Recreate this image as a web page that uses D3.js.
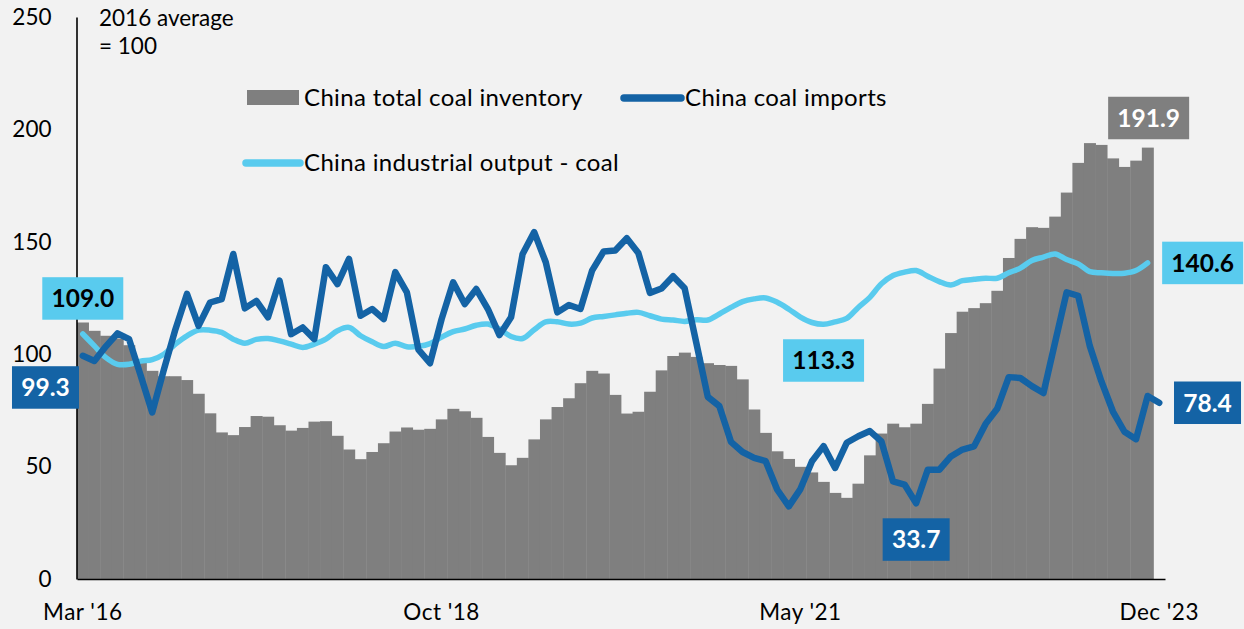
<!DOCTYPE html>
<html>
<head>
<meta charset="utf-8">
<script src="https://cdn.jsdelivr.net/npm/d3@7"></script>
<style>
  html, body { margin: 0; padding: 0; background: #f2f2f2; }
  svg { display: block; font-family: Lato, "Open Sans", sans-serif; }
</style>
</head>
<body>
<svg id="chart" width="1244" height="629"></svg>
<script>
// Monthly, Mar 2016 .. Dec 2023 (94 months), 2016 average = 100
const months = d3.timeMonths(new Date(2016, 2, 1), new Date(2024, 0, 1));

const tickIndex = [0, 31, 62, 93];
const tickLabels = ["Mar '16", "Oct '18", "May '21", "Dec '23"];
const yTicks = [0, 50, 100, 150, 200, 250];

// China total coal inventory (bars, to Nov '23)
const inventory = [
  114.1, 110.4, 108.2, 107.0, 104.0, 96.5, 92.6, 90.2, 90.2, 88.5,
  82.4, 73.7, 65.2, 64.0, 67.6, 72.5, 72.2, 68.4, 66.0, 67.2,
  70.0, 70.2, 63.7, 57.6, 53.3, 56.5, 60.4, 65.6, 67.4, 66.4,
  66.8, 71.0, 75.7, 74.6, 71.7, 63.2, 56.1, 50.6, 53.9, 62.1,
  71.0, 76.5, 80.4, 87.1, 92.6, 91.4, 81.9, 73.6, 74.4, 83.3,
  92.8, 99.2, 100.7, 98.8, 96.0, 95.2, 94.8, 88.8, 75.4, 65.0,
  56.8, 53.4, 49.9, 47.4, 43.2, 38.3, 36.1, 42.4, 55.0, 64.7,
  69.1, 67.5, 69.1, 77.9, 93.6, 109.4, 118.9, 120.5, 122.7, 128.2,
  142.8, 151.3, 156.5, 156.2, 161.2, 171.9, 185.1, 193.9, 193.1, 187.1,
  183.3, 186.1, 191.9
];

// China coal imports (to Dec '23)
const imports = [
  99.3, 97.0, 103.5, 109.3, 106.7, 90.5, 74.1, 93.0, 111.0, 126.8,
  112.6, 123.0, 124.5, 144.6, 120.4, 123.7, 116.4, 132.7, 108.9, 111.9,
  106.7, 138.7, 131.2, 142.4, 117.1, 120.1, 115.6, 136.5, 127.5, 102.0,
  96.0, 115.6, 132.0, 122.3, 129.0, 120.1, 108.5, 116.4, 144.6, 154.3,
  140.9, 118.6, 121.9, 120.1, 137.2, 145.7, 146.1, 151.6, 145.0, 127.3,
  129.2, 134.7, 129.3, 105.2, 81.0, 76.9, 61.0, 56.5, 53.9, 52.4,
  39.7, 32.3, 40.0, 52.4, 59.1, 49.4, 60.6, 63.5, 65.8, 61.2,
  43.4, 42.0, 33.7, 48.6, 48.6, 54.5, 57.6, 59.0, 69.0, 75.7,
  89.8, 89.4, 85.8, 82.7, 105.2, 127.5, 126.0, 103.7, 88.0, 74.5,
  65.5, 62.2, 81.4, 78.4
];

// China industrial output - coal (to Nov '23)
const output = [
  109.0, 103.7, 98.5, 95.5, 95.5, 96.9, 97.6, 100.0, 104.5, 108.2,
  110.7, 110.7, 109.7, 106.7, 104.9, 106.6, 107.0, 105.9, 104.5, 103.0,
  104.5, 106.7, 110.4, 111.9, 108.2, 105.5, 103.4, 104.9, 103.3, 103.5,
  104.7, 107.6, 110.0, 111.2, 112.9, 113.4, 111.2, 107.9, 107.0, 110.9,
  114.4, 114.4, 113.4, 113.8, 116.1, 116.8, 117.5, 118.2, 118.6, 117.1,
  115.6, 115.2, 114.6, 115.3, 115.2, 117.9, 120.8, 123.4, 124.6, 125.0,
  123.1, 120.0, 116.5, 114.1, 113.3, 114.4, 115.9, 120.8, 125.3, 131.3,
  135.0, 136.5, 137.2, 134.7, 132.3, 130.8, 132.7, 133.3, 133.8, 133.8,
  136.2, 138.3, 141.7, 143.2, 144.6, 142.1, 140.2, 136.7, 136.2, 135.9,
  136.0, 137.2, 140.6
];

const seriesNames = ["China total coal inventory", "China coal imports", "China industrial output - coal"];
const colors = { inventory: "#7f7f7f", imports: "#1463a5", output: "#59cbee" };

const svg = d3.select("#chart");

const x = d3.scaleBand()
  .domain(d3.range(months.length))
  .range([77, 1165])
  .padding(0);
const y = d3.scaleLinear().domain([0, 250]).range([579, 17]);
const cx = i => x(i) + x.bandwidth() / 2;

// Bars
svg.append("g").selectAll("rect")
  .data(inventory)
  .join("rect")
  .attr("x", (d, i) => x(i))
  .attr("y", d => y(d))
  .attr("width", x.bandwidth() + 0.4)
  .attr("height", d => y(0) - y(d))
  .attr("fill", colors.inventory);

// Lines
const smooth = d3.line().x((d, i) => cx(i)).y(d => y(d)).curve(d3.curveCatmullRom);
const straight = d3.line().x((d, i) => cx(i)).y(d => y(d));

svg.append("path")
  .datum(output)
  .attr("d", smooth)
  .attr("fill", "none")
  .attr("stroke", colors.output)
  .attr("stroke-width", 5.5)
  .attr("stroke-linecap", "round")
  .attr("stroke-linejoin", "round");

svg.append("path")
  .datum(imports)
  .attr("d", straight)
  .attr("fill", "none")
  .attr("stroke", colors.imports)
  .attr("stroke-width", 6.5)
  .attr("stroke-linecap", "round")
  .attr("stroke-linejoin", "round");

// Axes
const yAxis = svg.append("g")
  .attr("transform", "translate(76.5,0)")
  .call(d3.axisLeft(y).tickValues(yTicks).tickSize(0).tickPadding(25));
const xAxis = svg.append("g")
  .attr("transform", "translate(0,579)")
  .call(d3.axisBottom(x).tickValues(tickIndex)
    .tickFormat((d, i) => tickLabels[i]).tickSize(0).tickPadding(25));
[yAxis, xAxis].forEach(g => {
  g.select(".domain").attr("stroke", "#000").attr("stroke-width", 1.6);
  g.selectAll("text").attr("font-family", "Lato, sans-serif")
    .attr("font-size", 22.5).attr("fill", "#000");
});
xAxis.selectAll("text").attr("letter-spacing", 0.5);

// Unit note
const note = svg.append("text").attr("x", 99).attr("font-size", 22.5).attr("fill", "#000");
note.append("tspan").attr("x", 99).attr("y", 26).text("2016 average");
note.append("tspan").attr("x", 99).attr("y", 54).text("= 100");

// Legend
const legend = svg.append("g").attr("font-size", 24).attr("letter-spacing", 0.35).attr("fill", "#000");
legend.append("rect").attr("x", 247).attr("y", 90).attr("width", 52).attr("height", 15)
  .attr("fill", colors.inventory);
legend.append("text").attr("x", 304).attr("y", 106).text(seriesNames[0]);
legend.append("line").attr("x1", 624).attr("x2", 681).attr("y1", 98).attr("y2", 98)
  .attr("stroke", colors.imports).attr("stroke-width", 7.5).attr("stroke-linecap", "round");
legend.append("text").attr("x", 685).attr("y", 106).text(seriesNames[1]);
legend.append("line").attr("x1", 246).attr("x2", 300).attr("y1", 163).attr("y2", 163)
  .attr("stroke", colors.output).attr("stroke-width", 7.5).attr("stroke-linecap", "round");
legend.append("text").attr("x", 304).attr("y", 171).text(seriesNames[2]);

// Value call-outs
const callouts = [
  { data: output, i: 0, dx: 0, dy: -35.5, w: 81, fill: colors.output, text: "#000" },
  { data: imports, i: 0, dx: -37.3, dy: 31.7, w: 67, fill: colors.imports, text: "#fff" },
  { data: output, i: 64, dx: 0, dy: 36.2, w: 81, fill: colors.output, text: "#000" },
  { data: imports, i: 72, dx: 0, dy: 36.3, w: 67, fill: colors.imports, text: "#fff" },
  { data: imports, i: 93, dx: 48.3, dy: 0, w: 67, fill: colors.imports, text: "#fff" },
  { data: output, i: 92, dx: 55, dy: 0, w: 81, fill: colors.output, text: "#000" },
  { data: inventory, i: 92, dx: 1, dy: -29.6, w: 81, fill: colors.inventory, text: "#fff" }
];
const boxH = 42.5;
const co = svg.append("g").selectAll("g")
  .data(callouts)
  .join("g")
  .attr("transform", d => `translate(${cx(d.i) + d.dx},${y(d.data[d.i]) + d.dy})`);
co.append("rect")
  .attr("x", d => -d.w / 2).attr("y", -boxH / 2)
  .attr("width", d => d.w).attr("height", boxH)
  .attr("fill", d => d.fill);
co.append("text")
  .attr("text-anchor", "middle")
  .attr("dy", "0.36em")
  .attr("font-size", 24.5)
  .attr("font-weight", 700)
  .attr("fill", d => d.text)
  .text(d => d.data[d.i].toFixed(1));
</script>
</body>
</html>
